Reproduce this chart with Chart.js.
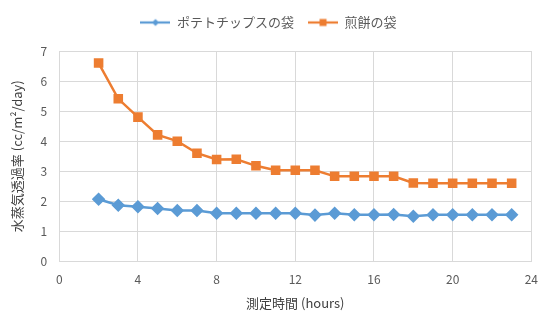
<!DOCTYPE html>
<html>
<head>
<meta charset="utf-8">
<script src="https://cdn.jsdelivr.net/npm/chart.js@4/dist/chart.umd.min.js"></script>
<style>
  html, body { margin: 0; padding: 0; background: #fff; }
  #wrap { width: 550px; height: 324px; }
</style>
</head>
<body>
<div id="wrap"><canvas id="chart" width="550" height="324"></canvas></div>
<script>
'use strict';
const hours = [2, 3, 4, 5, 6, 7, 8, 9, 10, 11, 12, 13, 14, 15, 16, 17, 18, 19, 20, 21, 22, 23];
const chipsBag = [2.07, 1.87, 1.82, 1.76, 1.69, 1.69, 1.6, 1.6, 1.6, 1.6, 1.6, 1.54, 1.6, 1.55, 1.55, 1.56, 1.5, 1.55, 1.55, 1.55, 1.55, 1.55];
const senbeiBag = [6.6, 5.41, 4.8, 4.21, 4.0, 3.6, 3.39, 3.4, 3.18, 3.03, 3.03, 3.03, 2.83, 2.83, 2.83, 2.83, 2.61, 2.6, 2.6, 2.6, 2.6, 2.6];
const seriesNames = ['ポテトチップスの袋', '煎餅の袋'];

const fontFamily = '"Noto Sans CJK JP", "Noto Sans", sans-serif';
const gray = '#595959';

function toPoints(values) {
  return hours.map((h, i) => ({ x: h, y: values[i] }));
}

// little legend icon: line with the marker in the middle
function legendIcon(color, diamond) {
  const c = document.createElement('canvas');
  c.width = 30;
  c.height = 10;
  const g = c.getContext('2d');
  g.strokeStyle = color;
  g.fillStyle = color;
  g.lineWidth = 2.25;
  g.beginPath();
  g.moveTo(0, 5);
  g.lineTo(30, 5);
  g.stroke();
  if (diamond) {
    g.beginPath();
    g.moveTo(15, 1.5);
    g.lineTo(18.5, 5);
    g.lineTo(15, 8.5);
    g.lineTo(11.5, 5);
    g.closePath();
    g.fill();
  } else {
    g.fillRect(11.5, 1.5, 7, 7);
  }
  return c;
}

const legendMargin = {
  id: 'legendMargin',
  beforeInit(chart) {
    const fit = chart.legend.fit;
    chart.legend.fit = function () {
      fit.bind(chart.legend)();
      this.height += 12;
    };
  }
};

const ctx = document.getElementById('chart').getContext('2d');
const chart = new Chart(ctx, {
  type: 'line',
  data: {
    datasets: [{
      label: seriesNames[0],
      data: toPoints(chipsBag),
      borderColor: '#5B9BD5',
      backgroundColor: '#5B9BD5',
      borderWidth: 2.5,
      pointStyle: 'rectRot',
      pointRadius: 5,
      pointHoverRadius: 5
    },
    {
      label: seriesNames[1],
      data: toPoints(senbeiBag),
      borderColor: '#ED7D31',
      backgroundColor: '#ED7D31',
      borderWidth: 2.5,
      pointStyle: 'rect',
      pointRadius: 5,
      pointHoverRadius: 5
    }]
  },
  options: {
    responsive: false,
    animation: false,
    layout: { padding: { left: 5, right: 18, top: 2, bottom: 9 } },
    plugins: {
      legend: {
        position: 'top',
        labels: {
          usePointStyle: true,
          pointStyleWidth: 30,
          color: gray,
          font: { family: fontFamily, size: 13 },
          padding: 14,
          generateLabels(c) {
            return c.data.datasets.map((ds, i) => ({
              text: ds.label,
              pointStyle: legendIcon(ds.borderColor, i === 0),
              fillStyle: ds.borderColor,
              strokeStyle: ds.borderColor,
              lineWidth: 0,
              datasetIndex: i,
              fontColor: gray
            }));
          }
        }
      },
      tooltip: { enabled: false }
    },
    scales: {
      x: {
        type: 'linear',
        min: 0,
        max: 24,
        ticks: { stepSize: 4, color: gray, padding: 12, font: { family: fontFamily, size: 12, lineHeight: 1 } },
        grid: { color: '#d9d9d9', drawTicks: false },
        border: { color: '#d9d9d9' },
        title: { display: true, text: '測定時間 (hours)', color: '#404040', padding: { top: -2, bottom: 4 }, font: { family: fontFamily, size: 13 } }
      },
      y: {
        min: 0,
        max: 7,
        ticks: { stepSize: 1, color: gray, padding: 12, font: { family: fontFamily, size: 12 } },
        grid: { color: '#d9d9d9', drawTicks: false },
        border: { color: '#d9d9d9' },
        title: { display: true, text: '水蒸気透過率 (cc/m²/day)', color: '#404040', font: { family: fontFamily, size: 13 } }
      }
    }
  },
  plugins: [legendMargin]
});
</script>
</body>
</html>
